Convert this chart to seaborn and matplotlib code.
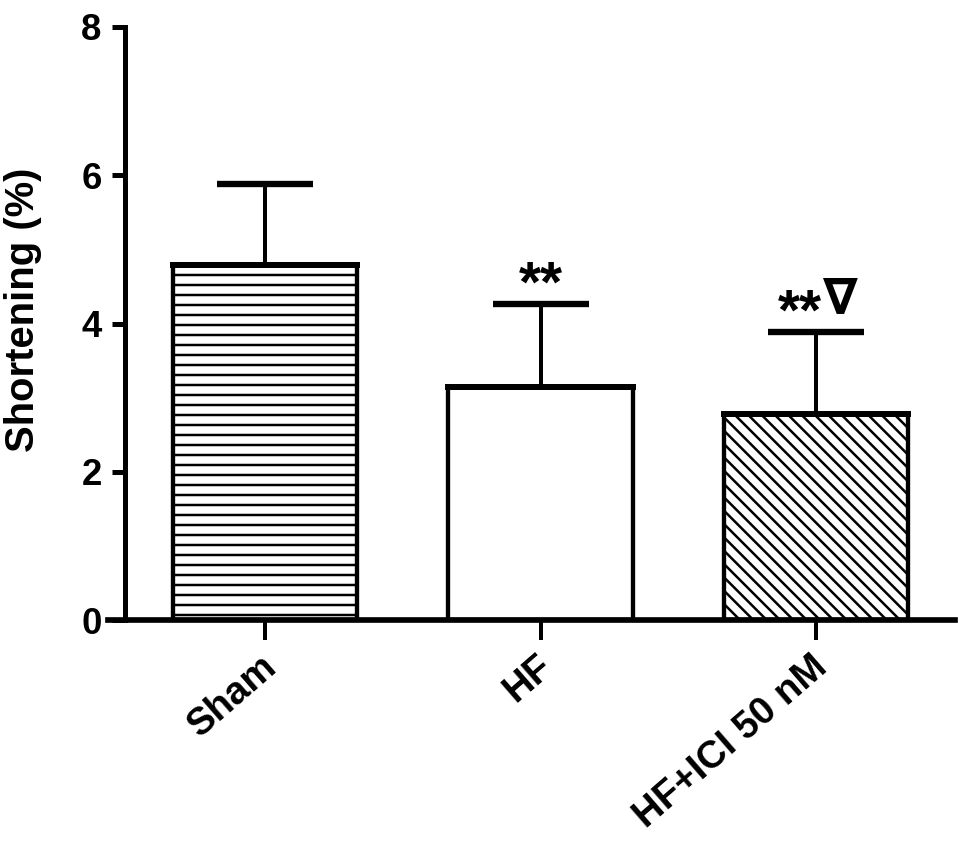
import matplotlib
matplotlib.use('Agg')
import matplotlib.pyplot as plt
import matplotlib.transforms as mtransforms
import seaborn as sns
import pandas as pd

# data
groups = ['Sham', 'HF', 'HF+ICI 50 nM']
means = [4.79, 3.14, 2.78]
sem = [1.09, 1.12, 1.11]
stars = ['', '**', '**']
extra = ['', '', '\u2207']
hatches = ['--', '', '\\\\\\']

sns.set_style('ticks')
plt.rcParams['font.family'] = ['Liberation Sans', 'DejaVu Sans']
plt.rcParams['font.weight'] = 'bold'
plt.rcParams['hatch.linewidth'] = 1.5
for k in ['text.color', 'axes.labelcolor', 'xtick.color', 'ytick.color', 'axes.edgecolor']:
    plt.rcParams[k] = 'black'

df = pd.DataFrame({'group': groups, 'mean': means})

DPI = 120
fig = plt.figure(figsize=(969 / DPI, 847 / DPI), dpi=DPI)
ax = fig.add_axes([108 / 969, 1 - 620 / 847, 847 / 969, 593 / 847])

sns.barplot(data=df, x='group', y='mean', color='white', edgecolor='black',
            linewidth=2.6, width=0.67, errorbar=None, ax=ax)
for patch, h in zip(ax.patches, hatches):
    patch.set_facecolor('white')
    patch.set_hatch(h)
    # GraphPad style heavier top edge
    ax.plot([patch.get_x(), patch.get_x() + patch.get_width()],
            [patch.get_height()] * 2, color='black', lw=3.6,
            solid_capstyle='projecting', zorder=3)

# upper error bars only
eb = ax.errorbar(range(len(groups)), means, yerr=[[0] * len(sem), sem], fmt='none',
                 ecolor='black', elinewidth=2.4, capsize=29, capthick=3.8, zorder=3)
eb[1][0].set_visible(False)

for i, (m, s, st, ex) in enumerate(zip(means, sem, stars, extra)):
    if not st:
        continue
    if ex:
        ax.text(i + 0.02, m + s + 0.03, st, ha='right', va='baseline', fontsize=34,
                fontweight='bold')
        ax.text(i + 0.025, m + s + 0.25, ex, ha='left', va='baseline', fontsize=30,
                fontweight='bold', family=['DejaVu Sans'])
    else:
        ax.text(i, m + s + 0.03, st, ha='center', va='baseline', fontsize=34,
                fontweight='bold')

ax.set_xlim(-0.570, 2.504)
ax.set_ylim(0, 8)
ax.set_yticks([0, 2, 4, 6, 8])

sns.despine(ax=ax)
ax.spines['left'].set_position(('data', -0.508))
ax.spines['left'].set_linewidth(3)
ax.spines['bottom'].set_linewidth(3.4)
ax.spines['left'].set_bounds(0, 8)

ax.tick_params(axis='y', length=8, width=3, pad=6, labelsize=22)
ax.tick_params(axis='x', length=12, width=2.4, pad=5, labelsize=23)
shift = mtransforms.ScaledTranslation(-5 / DPI, 0, fig.dpi_scale_trans)
for lab in ax.get_xticklabels():
    lab.set_rotation(41)
    lab.set_ha('right')
    lab.set_rotation_mode('anchor')
    lab.set_fontweight('bold')
    lab.set_transform(lab.get_transform() + shift)
for lab in ax.get_yticklabels():
    lab.set_fontweight('bold')

ax.set_xlabel('')
ax.set_ylabel('Shortening (%)', fontsize=24, fontweight='bold')
ax.yaxis.set_label_coords(-0.078, 0.523)

fig.savefig('out.png', dpi=DPI)
plt.close(fig)
